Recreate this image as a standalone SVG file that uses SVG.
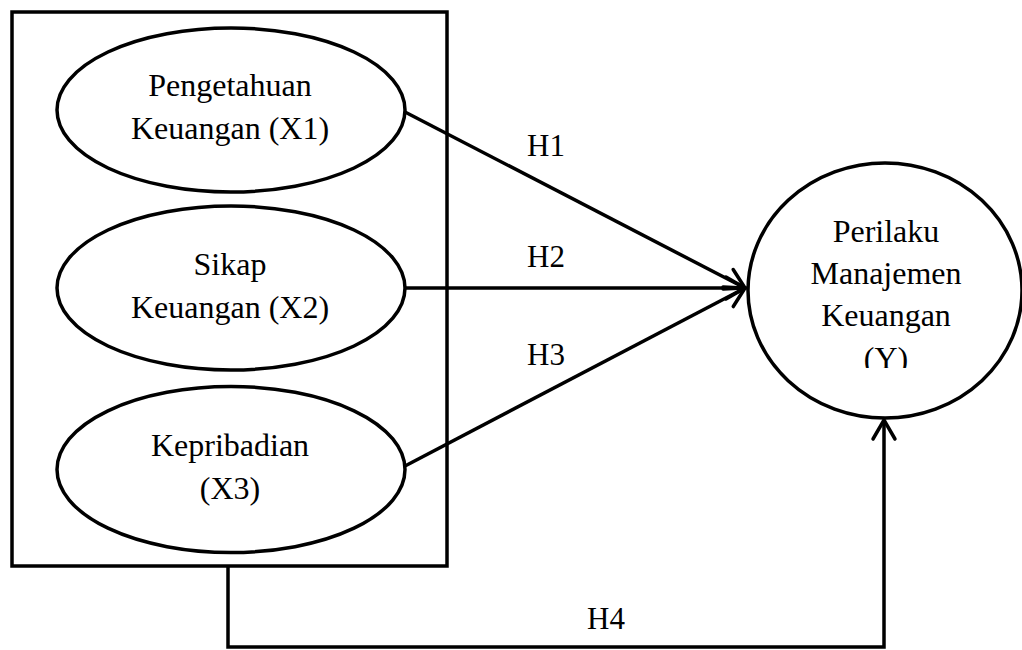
<svg xmlns="http://www.w3.org/2000/svg" width="1022" height="650" viewBox="0 0 1022 650">
<style>
.shape{fill:none;stroke:#000;stroke-width:3.5}
.lbl{font-family:"Liberation Serif","Times New Roman",serif;font-size:32px;fill:#000;text-anchor:middle}
.hl{font-family:"Liberation Serif","Times New Roman",serif;font-size:31px;fill:#000}
.conn{fill:none;stroke:#000;stroke-width:3.5}
</style>
<defs>
<marker id="arr" markerUnits="userSpaceOnUse" markerWidth="30" markerHeight="30" viewBox="-24 -15 30 30" refX="0" refY="0" orient="auto">
<path d="M-19,-11 L0,0 L-19,11" fill="none" stroke="#000" stroke-width="3.5" stroke-linecap="round" stroke-linejoin="miter"/>
</marker>
<clipPath id="clipY"><rect x="740" y="150" width="282" height="218"/></clipPath>
</defs>
<rect width="1022" height="650" fill="#fff"/>
<g id="group-box"><rect class="shape" x="12" y="12" width="435" height="554"/></g>
<g id="x1"><ellipse class="shape" cx="231" cy="110" rx="174" ry="82"/>
<text class="lbl" x="230" y="96">Pengetahuan</text><text class="lbl" x="230" y="139">Keuangan (X1)</text></g>
<g id="x2"><ellipse class="shape" cx="231" cy="288" rx="174" ry="82"/>
<text class="lbl" x="230" y="275">Sikap</text><text class="lbl" x="230" y="318">Keuangan (X2)</text></g>
<g id="x3"><ellipse class="shape" cx="231" cy="469.5" rx="174" ry="83"/>
<text class="lbl" x="230" y="456">Kepribadian</text><text class="lbl" x="230" y="499">(X3)</text></g>
<g id="y"><ellipse class="shape" cx="885" cy="290.5" rx="137" ry="127.5"/>
<g clip-path="url(#clipY)">
<text class="lbl" x="886" y="242">Perilaku</text><text class="lbl" x="886" y="284">Manajemen</text><text class="lbl" x="886" y="326">Keuangan</text><text class="lbl" x="886" y="369">(Y)</text></g></g>
<g id="connectors">
<line class="conn" x1="405" y1="112" x2="745" y2="288" marker-end="url(#arr)"/>
<line class="conn" x1="405" y1="288" x2="745" y2="288" marker-end="url(#arr)"/>
<line class="conn" x1="405" y1="466" x2="745" y2="288" marker-end="url(#arr)"/>
<polyline class="conn" points="228,566 228,647 884,647 884,420" marker-end="url(#arr)"/>
<text class="hl" x="527" y="156">H1</text>
<text class="hl" x="527" y="267">H2</text>
<text class="hl" x="527" y="365">H3</text>
<text class="hl" x="587" y="629">H4</text>
</g>
</svg>
